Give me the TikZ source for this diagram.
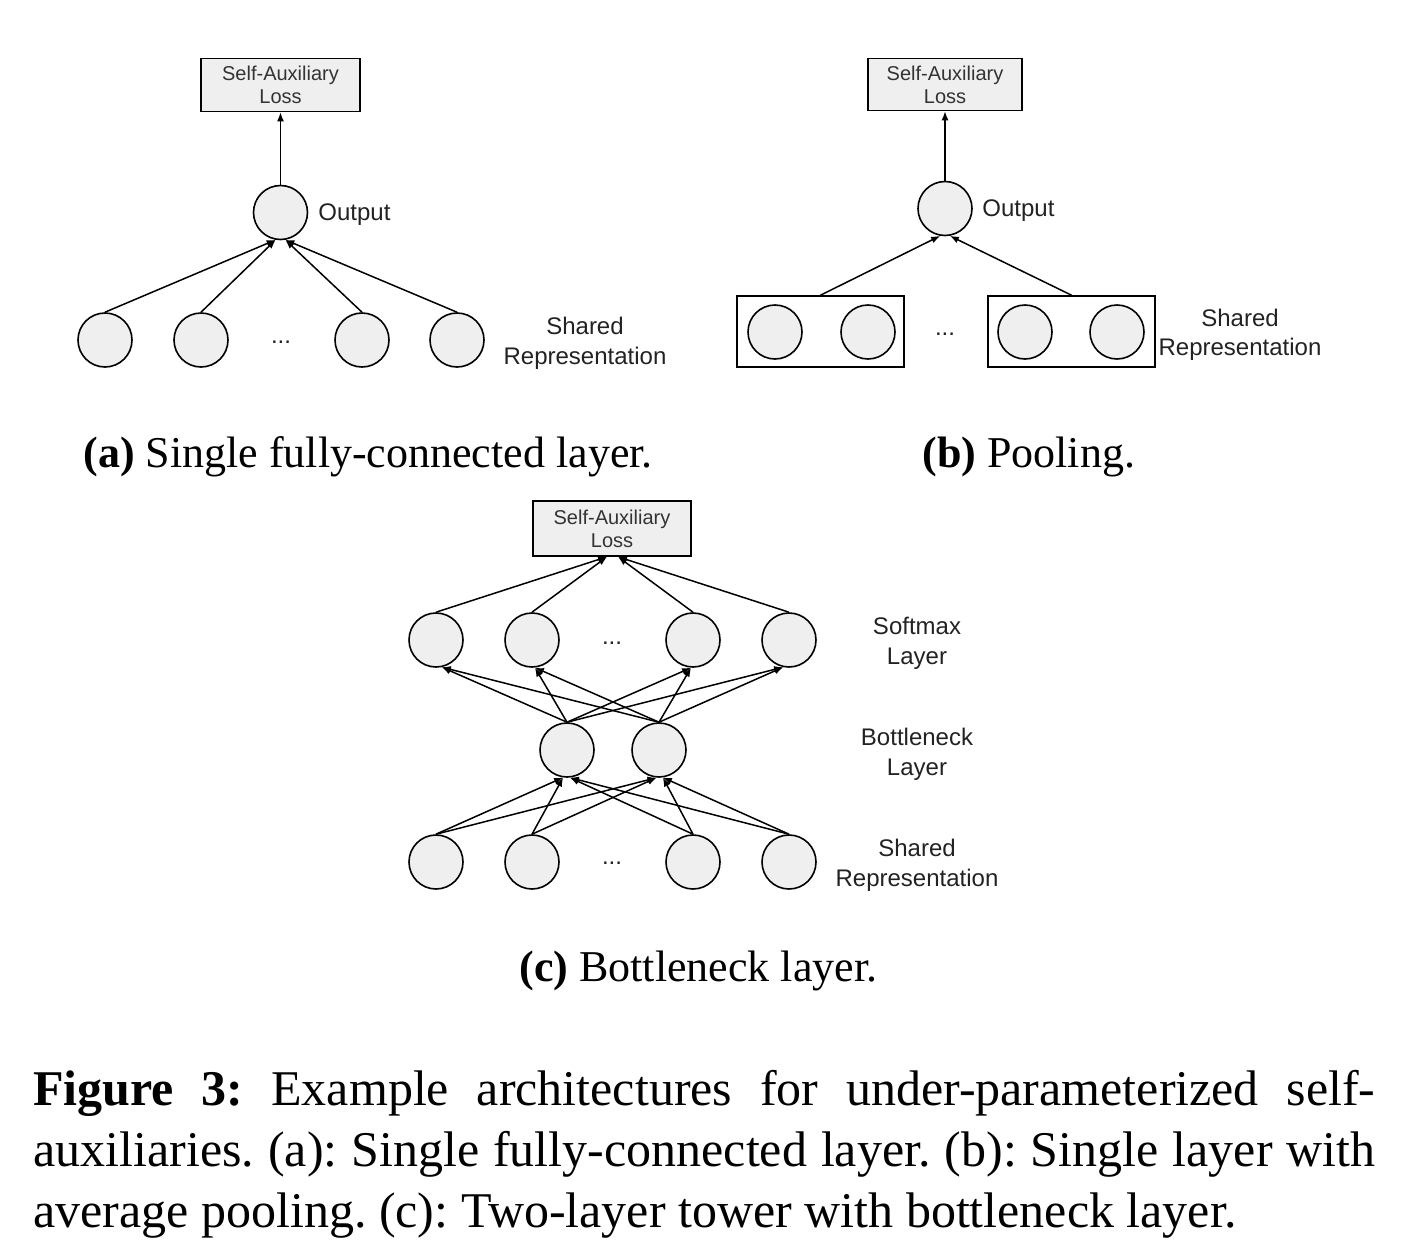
\documentclass[tikz,border=0pt]{standalone}
\usepackage{fontspec}
\setmainfont{Liberation Serif}
\newfontfamily\diafont{Liberation Sans}
\usetikzlibrary{arrows.meta,calc}
\definecolor{nfill}{HTML}{EFEFEF}
\definecolor{txtgray}{HTML}{333333}
\definecolor{txtdark}{HTML}{222222}
\frenchspacing
\begin{document}
\begin{tikzpicture}[x=0.5pt,y=-0.5pt,
 neuron/.style={circle,draw=black,fill=nfill,line width=0.8pt,minimum size=27pt,inner sep=0pt},
 lossbox/.style={draw=black,fill=nfill,line width=0.8pt,minimum width=79.5pt,minimum height=26.5pt,inner sep=0pt,align=center,font=\diafont\fontsize{10}{11.5}\selectfont,text=txtgray},
 poolbox/.style={draw=black,fill=white,line width=0.8pt,minimum width=83.5pt,minimum height=35.5pt,inner sep=0pt},
 lbl/.style={font=\diafont\fontsize{12}{15}\selectfont,align=center,text=txtdark,inner sep=0pt},
 conn/.style={line width=0.75pt,-{Latex[length=4.5pt,width=3.5pt]}},
 dotsn/.style={font=\diafont\fontsize{12}{14}\selectfont,inner sep=0pt,text=txtdark},
 subcap/.style={font=\fontsize{22}{26}\selectfont,anchor=base west,inner sep=0pt},
 capline/.style={font=\fontsize{25}{30}\selectfont,anchor=base west,inner sep=0pt}]
\useasboundingbox (0,0) rectangle (1414,1258);

% ---------- (a) ----------
\node[lossbox] (aL) at (280.5,85) {Self-Auxiliary\\Loss};
\node[neuron] (aO) at (280.5,212.5) {};
\node[neuron] (a1) at (105,340) {};
\node[neuron] (a2) at (201,340) {};
\node[neuron] (a3) at (362,340) {};
\node[neuron] (a4) at (457,340) {};
\node[dotsn] (ad) at (281,342) {...};
\draw[conn] (a1.north) -- (aO.-100);
\draw[conn] (a2.north) -- (aO.-100);
\draw[conn] (a3.north) -- (aO.-80);
\draw[conn] (a4.north) -- (aO.-80);
\draw[conn] (aO.north) -- (aL.south);
\node[lbl,anchor=west] (aOt) at (318,215) {Output};
\node[lbl] (aSR) at (585,343) {Shared\\Representation};

% ---------- (b) ----------
\node[lossbox,minimum width=77pt,minimum height=26pt] (bL) at (945,84.5) {Self-Auxiliary\\Loss};
\node[neuron] (bO) at (945,208.5) {};
\node[poolbox] (bp1) at (820.5,331.5) {};
\node[poolbox] (bp2) at (1071.5,331.5) {};
\node[neuron] (b1) at (775,332) {};
\node[neuron] (b2) at (868,332) {};
\node[neuron] (b3) at (1025,332) {};
\node[neuron] (b4) at (1117,332) {};
\node[dotsn] (bd) at (945,334) {...};
\draw[conn] (bp1.north) -- (bO.-100);
\draw[conn] (bp2.north) -- (bO.-80);
\draw[conn] (bO.north) -- (bL.south);
\node[lbl,anchor=west] (bOt) at (982,211) {Output};
\node[lbl,font=\diafont\fontsize{12}{14.5}\selectfont] (bSR) at (1240,334.5) {Shared\\Representation};

% ---------- (c) ----------
\node[lossbox,minimum width=79pt,minimum height=27.5pt] (cL) at (612,528.5) {Self-Auxiliary\\Loss};
\node[neuron] (s1) at (436,640) {};
\node[neuron] (s2) at (532,640) {};
\node[neuron] (s3) at (693,640) {};
\node[neuron] (s4) at (789,640) {};
\node[dotsn] (sd) at (612,643) {...};
\node[neuron] (n1) at (567,750) {};
\node[neuron] (n2) at (659,750) {};
\node[neuron] (r1) at (436,862) {};
\node[neuron] (r2) at (532,862) {};
\node[neuron] (r3) at (693,862) {};
\node[neuron] (r4) at (789,862) {};
\node[dotsn] (rd) at (612,863) {...};
% softmax -> loss
\draw[conn] (s1.north) -- ($(cL.south)+(-5,0)$);
\draw[conn] (s2.north) -- ($(cL.south)+(-5,0)$);
\draw[conn] (s3.north) -- ($(cL.south)+(6,0)$);
\draw[conn] (s4.north) -- ($(cL.south)+(6,0)$);
% bottleneck -> softmax
\foreach \n in {n1,n2}{
  \draw[conn] (\n.north) -- (s1.-78);
  \draw[conn] (\n.north) -- (s2.-84);
  \draw[conn] (\n.north) -- (s3.-94);
  \draw[conn] (\n.north) -- (s4.-102);
}
% shared -> bottleneck
\foreach \r in {r1,r2}{
  \draw[conn] (\r.north) -- (n1.-98);
  \draw[conn] (\r.north) -- (n2.-95);
}
\foreach \r in {r3,r4}{
  \draw[conn] (\r.north) -- (n1.-84);
  \draw[conn] (\r.north) -- (n2.-82);
}
\node[lbl] (cSL) at (917,643) {Softmax\\Layer};
\node[lbl] (cBL) at (917,754) {Bottleneck\\Layer};
\node[lbl] (cSR) at (917,865) {Shared\\Representation};

% ---------- captions ----------
\node[subcap] (capa) at (83,467) {\textbf{(a)} Single fully-connected layer.};
\node[subcap] (capb) at (922,467) {\textbf{(b)} Pooling.};
\node[subcap] (capc) at (519,981) {\textbf{(c)} Bottleneck layer.};

\node[capline] (cap1) at (33,1105) {\makebox[671pt][s]{\textbf{Figure 3:} Example architectures for under-parameterized self-}};
\node[capline] (cap2) at (33,1166) {\makebox[671pt][s]{auxiliaries. (a): Single fully-connected layer. (b): Single layer with}};
\node[capline] (cap3) at (33,1227) {average pooling. (c): Two-layer tower with bottleneck layer.};
\end{tikzpicture}
\end{document}
